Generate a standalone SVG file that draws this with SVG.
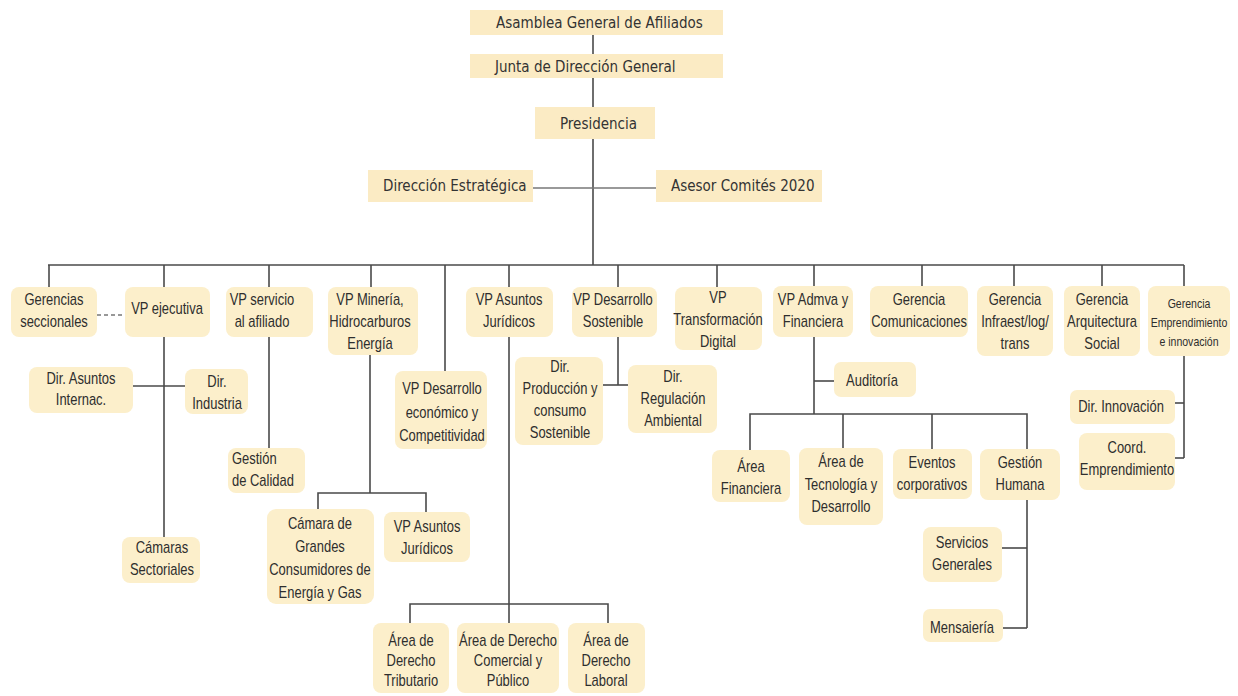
<svg xmlns="http://www.w3.org/2000/svg" width="1238" height="696" viewBox="0 0 1238 696">
<style>
.bg{fill:#ffffff}
.top rect{fill:#FBEBC4}
.top text{font-family:"DejaVu Sans Condensed","DejaVu Sans",sans-serif;font-size:15px;fill:#333333}
.n rect{fill:#FCEFCB}
.n text{font-family:"Liberation Sans",Arial,sans-serif;font-size:16px;fill:#2e2e2e;text-anchor:middle}
.sm text{font-size:13px}
.c line,.c path{stroke:#4a4a4a;stroke-width:1.6;fill:none}
.c .lt{stroke:#777777}
.c .dash{stroke:#777777;stroke-dasharray:4 3}
</style>
<rect class="bg" width="1238" height="696"/>
<g class="c" id="connectors">
<line x1="593" y1="35" x2="593" y2="54"/>
<line x1="593" y1="78" x2="593" y2="107"/>
<line x1="593" y1="139" x2="593" y2="265"/>
<line class="lt" x1="533" y1="188" x2="656" y2="188"/>
<line x1="48" y1="265" x2="1184" y2="265"/>
<line x1="49" y1="265" x2="49" y2="287"/>
<line x1="164" y1="265" x2="164" y2="287"/>
<line x1="269" y1="265" x2="269" y2="287"/>
<line x1="371" y1="265" x2="371" y2="287"/>
<line x1="445" y1="265" x2="445" y2="371"/>
<line x1="509" y1="265" x2="509" y2="287"/>
<line x1="618" y1="265" x2="618" y2="287"/>
<line x1="717" y1="265" x2="717" y2="287"/>
<line x1="814" y1="265" x2="814" y2="286"/>
<line x1="922" y1="265" x2="922" y2="286"/>
<line x1="1014" y1="265" x2="1014" y2="286"/>
<line x1="1102" y1="265" x2="1102" y2="286"/>
<line x1="1184" y1="265" x2="1184" y2="286"/>
<line class="dash" x1="97" y1="315" x2="128" y2="315"/>
<line x1="164" y1="337" x2="164" y2="537"/>
<line x1="133" y1="386" x2="185" y2="386"/>
<line x1="269" y1="337" x2="269" y2="448"/>
<line x1="370" y1="355" x2="370" y2="493"/>
<path d="M318 509 V493 H426 V512"/>
<line x1="509" y1="337" x2="509" y2="623"/>
<path d="M410 623 V604 H608 V623"/>
<line x1="618" y1="337" x2="618" y2="385"/>
<line x1="603" y1="385" x2="628" y2="385"/>
<line x1="814" y1="337" x2="814" y2="414"/>
<line x1="814" y1="381" x2="845" y2="381"/>
<path d="M750 450 V414 H1027 V449"/>
<line x1="843" y1="414" x2="843" y2="448"/>
<line x1="932" y1="414" x2="932" y2="449"/>
<line x1="1027" y1="500" x2="1027" y2="628"/>
<line x1="1002" y1="548" x2="1027" y2="548"/>
<line x1="1000" y1="628" x2="1027" y2="628"/>
<line x1="1184" y1="356" x2="1184" y2="458"/>
<line x1="1175" y1="403" x2="1184" y2="403"/>
<line x1="1175" y1="458" x2="1184" y2="458"/>
</g>
<g class="top" id="asamblea"><rect x="470" y="10" width="253" height="25"/><text x="496" y="28">Asamblea General de Afiliados</text></g>
<g class="top" id="junta"><rect x="470" y="54" width="253" height="24"/><text x="495" y="72">Junta de Dirección General</text></g>
<g class="top" id="presidencia"><rect x="535" y="107" width="120" height="32"/><text x="560" y="129">Presidencia</text></g>
<g class="top" id="direccion-estrategica"><rect x="368" y="170" width="165" height="32"/><text x="383" y="191">Dirección Estratégica</text></g>
<g class="top" id="asesor"><rect x="656" y="170" width="166" height="32"/><text x="671" y="191">Asesor Comités 2020</text></g>

<g class="n" id="gerencias-seccionales"><rect x="11" y="287" width="86" height="50" rx="8"/><text transform="translate(54 0) scale(.81 1)"><tspan x="0" y="305">Gerencias</tspan><tspan x="0" y="327">seccionales</tspan></text></g>
<g class="n" id="vp-ejecutiva"><rect x="125" y="287" width="85" height="50" rx="8"/><text transform="translate(167 0) scale(.81 1)"><tspan x="0" y="314">VP ejecutiva</tspan></text></g>
<g class="n" id="vp-servicio"><rect x="226" y="287" width="87" height="50" rx="8"/><text transform="translate(262 0) scale(.81 1)"><tspan x="0" y="305">VP servicio</tspan><tspan x="0" y="327">al afiliado</tspan></text></g>
<g class="n" id="vp-mineria"><rect x="328" y="287" width="90" height="68" rx="8"/><text transform="translate(370 0) scale(.81 1)"><tspan x="0" y="305">VP Minería,</tspan><tspan x="0" y="327">Hidrocarburos</tspan><tspan x="0" y="349">Energía</tspan></text></g>
<g class="n" id="vp-desarrollo-economico"><rect x="395" y="371" width="92" height="78" rx="8"/><text transform="translate(442 0) scale(.81 1)"><tspan x="0" y="394">VP Desarrollo</tspan><tspan x="0" y="418">económico y</tspan><tspan x="0" y="441">Competitividad</tspan></text></g>
<g class="n" id="vp-asuntos-juridicos"><rect x="466" y="287" width="87" height="50" rx="8"/><text transform="translate(509 0) scale(.81 1)"><tspan x="0" y="305">VP Asuntos</tspan><tspan x="0" y="327">Jurídicos</tspan></text></g>
<g class="n" id="vp-desarrollo-sostenible"><rect x="572" y="287" width="85" height="50" rx="8"/><text transform="translate(613 0) scale(.81 1)"><tspan x="0" y="305">VP Desarrollo</tspan><tspan x="0" y="327">Sostenible</tspan></text></g>
<g class="n" id="vp-transformacion"><rect x="675" y="287" width="87" height="63" rx="8"/><text transform="translate(718 0) scale(.81 1)"><tspan x="0" y="303">VP</tspan><tspan x="0" y="325">Transformación</tspan><tspan x="0" y="347">Digital</tspan></text></g>
<g class="n" id="dir-produccion"><rect x="515" y="357" width="88" height="88" rx="8"/><text transform="translate(560 0) scale(.81 1)"><tspan x="0" y="372">Dir.</tspan><tspan x="0" y="394">Producción y</tspan><tspan x="0" y="416">consumo</tspan><tspan x="0" y="438">Sostenible</tspan></text></g>
<g class="n" id="dir-regulacion"><rect x="628" y="365" width="89" height="68" rx="8"/><text transform="translate(673 0) scale(.81 1)"><tspan x="0" y="382">Dir.</tspan><tspan x="0" y="404">Regulación</tspan><tspan x="0" y="426">Ambiental</tspan></text></g>
<g class="n" id="vp-admva"><rect x="773" y="286" width="80" height="51" rx="8"/><text transform="translate(813 0) scale(.81 1)"><tspan x="0" y="305">VP Admva y</tspan><tspan x="0" y="327">Financiera</tspan></text></g>
<g class="n" id="gerencia-comunicaciones"><rect x="870" y="286" width="98" height="51" rx="8"/><text transform="translate(919 0) scale(.81 1)"><tspan x="0" y="305">Gerencia</tspan><tspan x="0" y="327">Comunicaciones</tspan></text></g>
<g class="n" id="gerencia-infraest"><rect x="977" y="286" width="76" height="70" rx="8"/><text transform="translate(1015 0) scale(.81 1)"><tspan x="0" y="305">Gerencia</tspan><tspan x="0" y="327">Infraest/log/</tspan><tspan x="0" y="349">trans</tspan></text></g>
<g class="n" id="gerencia-arquitectura"><rect x="1064" y="286" width="76" height="70" rx="8"/><text transform="translate(1102 0) scale(.81 1)"><tspan x="0" y="305">Gerencia</tspan><tspan x="0" y="327">Arquitectura</tspan><tspan x="0" y="349">Social</tspan></text></g>
<g class="n sm" id="gerencia-emprendimiento"><rect x="1148" y="286" width="82" height="70" rx="8"/><text transform="translate(1189 0) scale(.81 1)"><tspan x="0" y="308">Gerencia</tspan><tspan x="0" y="327">Emprendimiento</tspan><tspan x="0" y="346">e innovación</tspan></text></g>
<g class="n" id="auditoria"><rect x="834" y="362" width="82" height="35" rx="7"/><text transform="translate(872 0) scale(.81 1)"><tspan x="0" y="386">Auditoría</tspan></text></g>
<g class="n" id="area-financiera"><rect x="712" y="450" width="78" height="52" rx="8"/><text transform="translate(751 0) scale(.81 1)"><tspan x="0" y="472">Área</tspan><tspan x="0" y="494">Financiera</tspan></text></g>
<g class="n" id="area-tecnologia"><rect x="799" y="448" width="84" height="77" rx="8"/><text transform="translate(841 0) scale(.81 1)"><tspan x="0" y="467">Área de</tspan><tspan x="0" y="490">Tecnología y</tspan><tspan x="0" y="512">Desarrollo</tspan></text></g>
<g class="n" id="eventos"><rect x="893" y="449" width="79" height="50" rx="8"/><text transform="translate(932 0) scale(.81 1)"><tspan x="0" y="468">Eventos</tspan><tspan x="0" y="490">corporativos</tspan></text></g>
<g class="n" id="gestion-humana"><rect x="980" y="449" width="80" height="51" rx="8"/><text transform="translate(1020 0) scale(.81 1)"><tspan x="0" y="468">Gestión</tspan><tspan x="0" y="490">Humana</tspan></text></g>
<g class="n" id="servicios-generales"><rect x="923" y="527" width="79" height="55" rx="8"/><text transform="translate(962 0) scale(.81 1)"><tspan x="0" y="548">Servicios</tspan><tspan x="0" y="570">Generales</tspan></text></g>
<g class="n" id="mensaieria"><rect x="923" y="609" width="80" height="33" rx="7"/><text transform="translate(962 0) scale(.81 1)"><tspan x="0" y="633">Mensaiería</tspan></text></g>
<g class="n" id="dir-innovacion"><rect x="1070" y="390" width="105" height="34" rx="7"/><text transform="translate(1121 0) scale(.81 1)"><tspan x="0" y="412">Dir. Innovación</tspan></text></g>
<g class="n" id="coord-emprendimiento"><rect x="1079" y="433" width="96" height="57" rx="8"/><text transform="translate(1127 0) scale(.81 1)"><tspan x="0" y="453">Coord.</tspan><tspan x="0" y="475">Emprendimiento</tspan></text></g>
<g class="n" id="dir-asuntos-internac"><rect x="29" y="367" width="104" height="46" rx="8"/><text transform="translate(81 0) scale(.81 1)"><tspan x="0" y="384">Dir. Asuntos</tspan><tspan x="0" y="405">Internac.</tspan></text></g>
<g class="n" id="dir-industria"><rect x="185" y="369" width="63" height="45" rx="8"/><text transform="translate(217 0) scale(.81 1)"><tspan x="0" y="387">Dir.</tspan><tspan x="0" y="409">Industria</tspan></text></g>
<g class="n" id="camaras-sectoriales"><rect x="122" y="537" width="78" height="46" rx="8"/><text transform="translate(162 0) scale(.81 1)"><tspan x="0" y="553">Cámaras</tspan><tspan x="0" y="575">Sectoriales</tspan></text></g>
<g class="n" id="gestion-calidad"><rect x="228" y="448" width="77" height="45" rx="8"/><text transform="translate(232 0) scale(.81 1)" style="text-anchor:start"><tspan x="0" y="464">Gestión</tspan><tspan x="0" y="486">de Calidad</tspan></text></g>
<g class="n" id="camara-grandes"><rect x="267" y="509" width="107" height="95" rx="9"/><text transform="translate(320 0) scale(.81 1)"><tspan x="0" y="529">Cámara de</tspan><tspan x="0" y="552">Grandes</tspan><tspan x="0" y="575">Consumidores de</tspan><tspan x="0" y="598">Energía y Gas</tspan></text></g>
<g class="n" id="vp-asuntos-juridicos-2"><rect x="384" y="512" width="86" height="50" rx="8"/><text transform="translate(427 0) scale(.81 1)"><tspan x="0" y="532">VP Asuntos</tspan><tspan x="0" y="554">Jurídicos</tspan></text></g>
<g class="n" id="derecho-tributario"><rect x="373" y="623" width="76" height="70" rx="8"/><text transform="translate(411 0) scale(.81 1)"><tspan x="0" y="646">Área de</tspan><tspan x="0" y="666">Derecho</tspan><tspan x="0" y="686">Tributario</tspan></text></g>
<g class="n" id="derecho-comercial"><rect x="457" y="623" width="102" height="70" rx="8"/><text transform="translate(508 0) scale(.81 1)"><tspan x="0" y="646">Área de Derecho</tspan><tspan x="0" y="666">Comercial y</tspan><tspan x="0" y="686">Público</tspan></text></g>
<g class="n" id="derecho-laboral"><rect x="568" y="623" width="77" height="70" rx="8"/><text transform="translate(606 0) scale(.81 1)"><tspan x="0" y="646">Área de</tspan><tspan x="0" y="666">Derecho</tspan><tspan x="0" y="686">Laboral</tspan></text></g>
</svg>
